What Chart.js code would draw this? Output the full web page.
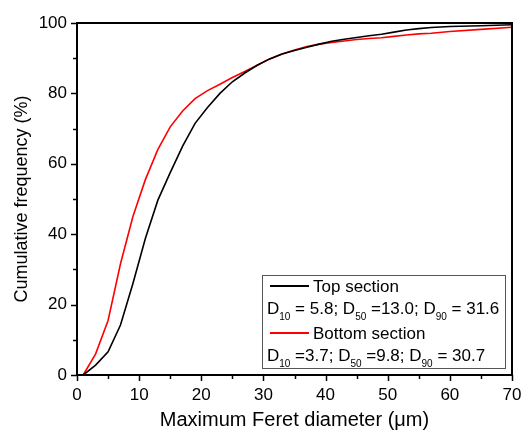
<!DOCTYPE html>
<html><head><meta charset="utf-8">
<script src="https://cdn.jsdelivr.net/npm/chart.js@4"></script>
<style>html,body{margin:0;padding:0;background:#fff}#w{width:522px;height:434px}</style>
</head><body><div id="w"><canvas id="c"></canvas></div>
<script>
const topX = [1,3,5,7,9,11,13,15,17,19,21,23,25,27,29,31,33,35,37,39,41,43,45,47,49,51,53,55,57,60,65,70];
const topY = [0,2.8,6.6,14.2,26,38.8,49.6,57.5,65,71.5,76,80,83.3,85.8,88,89.8,91.2,92.2,93.1,94,94.8,95.4,95.9,96.4,96.8,97.4,98,98.4,98.7,99,99.2,99.5];
const botX = [1,3,5,7,9,11,13,15,17,19,21,23,25,27,29,31,33,35,37,39,41,43,45,47,49,51,53,55,57,60,65,70];
const botY = [0,6,15.5,31.6,45,55.5,64,70.5,75,78.5,80.8,82.6,84.5,86.2,88,89.8,91.2,92.3,93.3,94,94.5,94.9,95.3,95.6,95.8,96.2,96.6,96.9,97.1,97.6,98.2,98.8];
const seriesNames = ['Top section','Bottom section'];
const dStats = [['5.8','13.0','31.6'],['3.7','9.8','30.7']];
const dEq = [[' = ',' =',' = '],[' =',' =',' = ']];
const xTicks = [0,10,20,30,40,50,60,70];
const yTicks = [0,20,40,60,80,100];

const FONT = '"Liberation Sans", Arial, sans-serif';
const toPts = (xs, ys) => xs.map((x,i)=>({x, y: ys[i]}));

const framePlugin = {
  id:'frame',
  afterDraw(chart){
    const {ctx, chartArea:a, scales:{x, y}} = chart;
    ctx.save();
    ctx.strokeStyle='#000'; ctx.lineWidth=2;
    ctx.strokeRect(a.left, a.top, a.right-a.left, a.bottom-a.top);
    ctx.lineWidth=1.5;
    for (let v=0; v<=70; v+=5){
      const px = Math.round(x.getPixelForValue(v))+0.5;
      const L = v%10===0 ? 6 : 4;
      ctx.beginPath(); ctx.moveTo(px, a.bottom); ctx.lineTo(px, a.bottom+L); ctx.stroke();
    }
    for (let v=0; v<=100; v+=10){
      const py = Math.round(y.getPixelForValue(v))+0.5;
      const L = v%20===0 ? 6 : 4;
      ctx.beginPath(); ctx.moveTo(a.left, py); ctx.lineTo(a.left-L, py); ctx.stroke();
    }
    // legend box
    const bx=262, by=275, bw=243, bh=93;
    ctx.lineWidth=1; ctx.strokeStyle='#555';
    ctx.fillStyle='#fff';
    ctx.fillRect(bx+0.5,by+0.5,bw,bh);
    ctx.strokeRect(bx+0.5,by+0.5,bw,bh);
    const colors = chart.data.datasets.map(d=>d.borderColor);
    const rows = [286, 333];
    ctx.textBaseline='middle'; ctx.textAlign='left';
    rows.forEach((ry, i)=>{
      ctx.strokeStyle=colors[i]; ctx.lineWidth=2;
      ctx.beginPath(); ctx.moveTo(270, ry); ctx.lineTo(309, ry); ctx.stroke();
      ctx.fillStyle='#000';
      ctx.font='17px '+FONT;
      ctx.fillText(chart.data.datasets[i].label, 313, ry+1);
      const dy = ry + 23;
      let cx = 267;
      const subs = ['10','50','90'];
      for (let k=0;k<3;k++){
        ctx.font='17px '+FONT;
        ctx.fillText('D', cx, dy); cx += ctx.measureText('D').width;
        ctx.font='10px '+FONT;
        ctx.fillText(subs[k], cx, dy+8); cx += ctx.measureText(subs[k]).width;
        ctx.font='17px '+FONT;
        const t = dEq[i][k] + dStats[i][k] + (k<2 ? '; ' : '');
        ctx.fillText(t, cx, dy); cx += ctx.measureText(t).width;
      }
    });
    ctx.restore();
  }
};

new Chart(document.getElementById('c'), {
  type:'scatter',
  data:{datasets:[
    {label:seriesNames[0], data:toPts(topX, topY), showLine:true, borderColor:'#000000', borderWidth:1.6, pointRadius:0, tension:0},
    {label:seriesNames[1], data:toPts(botX, botY), showLine:true, borderColor:'#ff0000', borderWidth:1.6, pointRadius:0, tension:0}
  ]},
  options:{
    responsive:true, maintainAspectRatio:false, animation:false,
    layout:{padding:{top:23, right:10, left:0, bottom:0}},
    plugins:{legend:{display:false}, tooltip:{enabled:false}},
    scales:{
      x:{type:'linear', min:0, max:70,
        afterBuildTicks:s=>{s.ticks = xTicks.map(v=>({value:v}));},
        afterFit:s=>{s.height=59; s.paddingLeft=0; s.paddingRight=0;},
        grid:{display:false, drawTicks:true, tickLength:6},
        border:{display:false},
        ticks:{color:'#000', font:{family:FONT, size:17}, padding:4, maxRotation:0},
        title:{display:true, text:'Maximum Feret diameter (μm)', color:'#000', font:{family:FONT, size:20}, padding:{top:0,bottom:2}}
      },
      y:{min:0, max:100,
        afterBuildTicks:s=>{s.ticks = yTicks.map(v=>({value:v}));},
        afterFit:s=>{s.width=77; s.paddingTop=0; s.paddingBottom=0;},
        grid:{display:false, drawTicks:true, tickLength:6},
        border:{display:false},
        ticks:{color:'#000', font:{family:FONT, size:17}, padding:4},
        title:{display:true, text:'Cumulative frequency (%)', color:'#000', font:{family:FONT, size:18}, padding:{top:11,bottom:0}}
      }
    }
  },
  plugins:[framePlugin]
});
</script></body></html>
